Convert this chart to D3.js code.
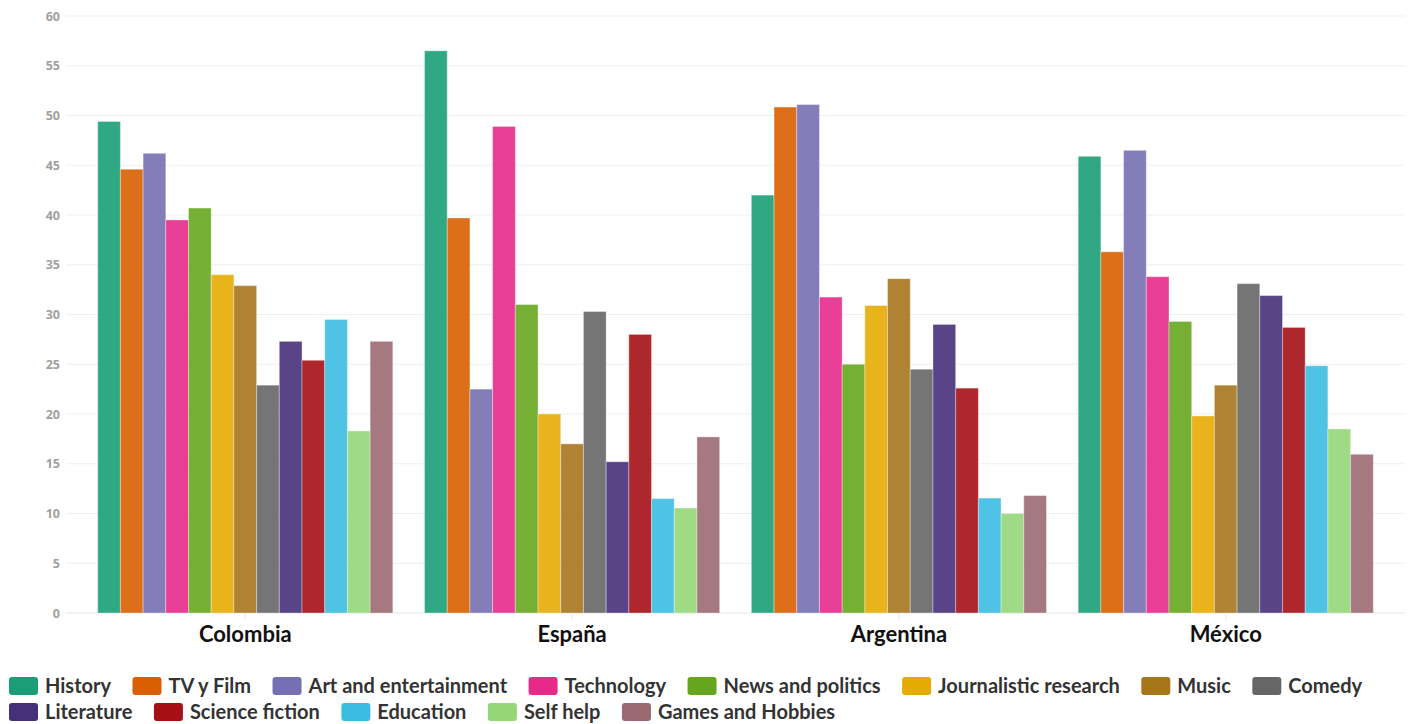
<!DOCTYPE html>
<html>
<head>
<meta charset="utf-8">
<script src="https://cdn.jsdelivr.net/npm/d3@7"></script>
<style>
  html, body { margin: 0; padding: 0; background: #fff; }
  svg { display: block; }
</style>
</head>
<body>
<svg id="chart" width="1413" height="724"></svg>
<script>
const countries = ["Colombia", "España", "Argentina", "México"];
const categories = ["History", "TV y Film", "Art and entertainment", "Technology", "News and politics",
  "Journalistic research", "Music", "Comedy", "Literature", "Science fiction", "Education", "Self help", "Games and Hobbies"];
const colors = ["#1b9e77", "#d95f02", "#7570b3", "#e7298a", "#66a61e", "#e6ab02", "#a6761d", "#666666",
  "#46307a", "#a50f15", "#3bbde2", "#95d677", "#9c6972"];
// values per category, in the order of countries
const History = [49.4, 56.5, 42.0, 45.9];
const TVyFilm = [44.6, 39.7, 50.85, 36.3];
const ArtEntertainment = [46.2, 22.5, 51.1, 46.5];
const Technology = [39.5, 48.9, 31.75, 33.8];
const NewsPolitics = [40.7, 31.0, 25.0, 29.3];
const Journalistic = [34.0, 20.0, 30.9, 19.8];
const Music = [32.9, 17.0, 33.6, 22.9];
const Comedy = [22.9, 30.3, 24.5, 33.1];
const Literature = [27.3, 15.2, 29.0, 31.9];
const ScienceFiction = [25.4, 28.0, 22.6, 28.7];
const Education = [29.5, 11.5, 11.55, 24.85];
const SelfHelp = [18.3, 10.55, 10.0, 18.5];
const GamesHobbies = [27.3, 17.7, 11.8, 15.95];
const yTicks = [0, 5, 10, 15, 20, 25, 30, 35, 40, 45, 50, 55, 60];

const series = [History, TVyFilm, ArtEntertainment, Technology, NewsPolitics, Journalistic, Music,
  Comedy, Literature, ScienceFiction, Education, SelfHelp, GamesHobbies];

const svg = d3.select("#chart");
const margin = {left: 66, right: 8, top: 16, bottom: 111};
const W = 1413, H = 724;

const x0 = d3.scaleBand().domain(countries).range([margin.left, W - margin.right]).paddingInner(0.097).paddingOuter(0.097);
const x1 = d3.scaleBand().domain(categories).range([0, x0.bandwidth()]).padding(0);
const y = d3.scaleLinear().domain([0, 60]).range([H - margin.bottom, margin.top]);
const color = d3.scaleOrdinal().domain(categories).range(colors);

// grid
svg.append("g").selectAll("line").data(yTicks).join("line")
  .attr("x1", margin.left).attr("x2", W - margin.right)
  .attr("y1", d => y(d)).attr("y2", d => y(d))
  .attr("stroke", d => d === 0 ? "#e6e6e6" : "#efefef").attr("stroke-width", 1);

// y axis
const yAxis = svg.append("g").attr("transform", `translate(${margin.left},0)`)
  .call(d3.axisLeft(y).tickValues(yTicks).tickSize(0).tickPadding(6));
yAxis.select(".domain").remove();
yAxis.selectAll("text").attr("font-family", "'Open Sans', sans-serif").attr("font-weight", 700)
  .attr("font-size", 12.5).attr("fill", "#a0a0a0");

// x axis
const xAxis = svg.append("g").attr("transform", `translate(0,${y(0)})`)
  .call(d3.axisBottom(x0).tickSize(7).tickPadding(4));
xAxis.select(".domain").remove();
xAxis.selectAll(".tick line").attr("stroke", "#e6e6e6");
xAxis.selectAll("text").attr("font-family", "Lato, sans-serif").attr("font-weight", 700)
  .attr("font-size", 22).attr("fill", "#111").attr("dy", "0.8em");

// bars
const groups = svg.append("g").selectAll("g").data(countries).join("g")
  .attr("transform", d => `translate(${x0(d)},0)`);
groups.selectAll("rect").data((c, ci) => categories.map((k, i) => ({k, v: series[i][ci]}))).join("rect")
  .attr("x", d => x1(d.k)).attr("width", x1.bandwidth())
  .attr("y", d => y(d.v)).attr("height", d => y(0) - y(d.v))
  .attr("fill", d => color(d.k)).attr("fill-opacity", 0.9)
  .attr("stroke", "#fff").attr("stroke-opacity", 0.35).attr("stroke-width", 1);

// legend (flow layout)
const legend = svg.append("g");
const swW = 29, swH = 18, gapText = 7, gapItem = 21.5, rowH = 26;
let lx = 9, ly = 686;
categories.forEach((k, i) => {
  const g = legend.append("g");
  const t = g.append("text").text(k).attr("font-family", "Lato, sans-serif").attr("font-weight", 700)
    .attr("font-size", 20).attr("fill", "#333").attr("dy", "0.35em");
  const tw = t.node().getComputedTextLength();
  if (lx + swW + gapText + tw > W - 8) { lx = 9; ly += rowH; }
  g.attr("transform", `translate(${lx},${ly})`);
  g.insert("rect", "text").attr("x", 0).attr("y", -swH / 2).attr("width", swW).attr("height", swH)
    .attr("rx", 3).attr("fill", color(k));
  t.attr("x", swW + gapText);
  lx += swW + gapText + tw + gapItem;
});
</script>
</body>
</html>
